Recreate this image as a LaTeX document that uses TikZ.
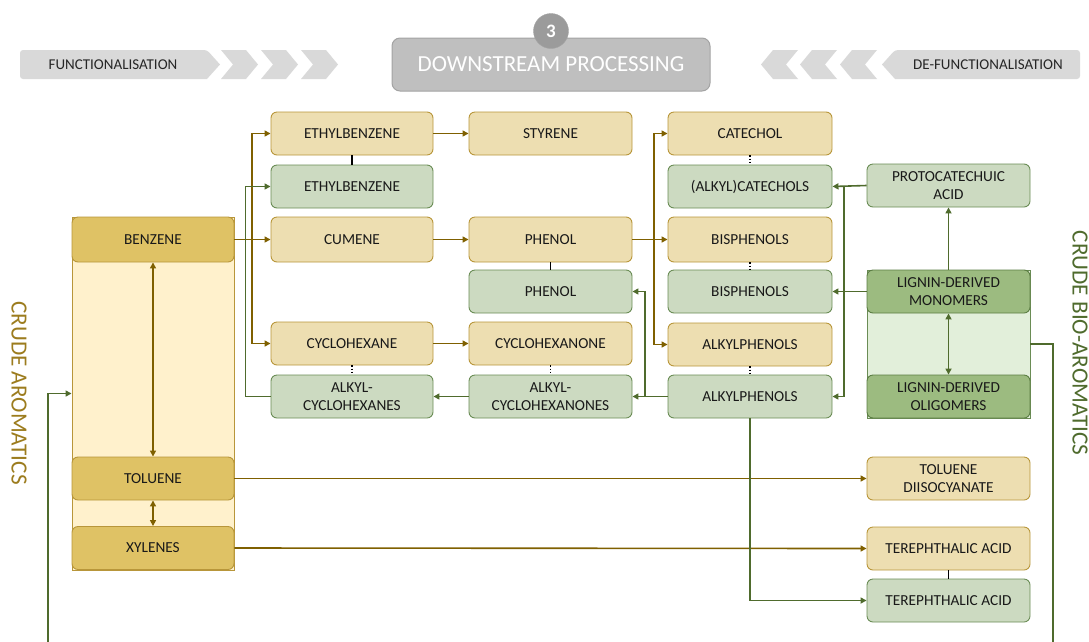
\documentclass[tikz,border=0pt]{standalone}
\usepackage{fontspec}
\setmainfont{Carlito}
\usetikzlibrary{arrows.meta}

\definecolor{beigeF}{HTML}{EDDEB1}
\definecolor{goldD}{HTML}{B8963A}
\definecolor{goldF}{HTML}{DFC265}
\definecolor{goldBg}{HTML}{FFF1CC}
\definecolor{greenF}{HTML}{CCDAC1}
\definecolor{greenD}{HTML}{6A8C55}
\definecolor{dgreenF}{HTML}{9CBB80}
\definecolor{dgreenD}{HTML}{5B7D43}
\definecolor{greenBg}{HTML}{E2EFDA}
\definecolor{brownA}{HTML}{7F6000}
\definecolor{greenA}{HTML}{4F6B2D}
\definecolor{bannerF}{HTML}{D9D9D9}
\definecolor{dsF}{HTML}{BFBFBF}
\definecolor{dsD}{HTML}{A3A3A3}
\definecolor{crudeT}{HTML}{9C7C1E}

\begin{document}
\begin{tikzpicture}[x=1pt,y=-1pt,
  box/.style={rounded corners=6pt, minimum width=162pt, minimum height=43pt,
    align=center, inner sep=1pt, line width=0.9pt, text=black!90,
    font=\fontsize{15.3}{18}\selectfont},
  petro/.style={box, fill=beigeF, draw=goldD},
  crude/.style={box, fill=goldF, draw=goldD},
  bio/.style={box, fill=greenF, draw=greenD},
  lignin/.style={box, fill=dgreenF, draw=dgreenD},
  tip/.style={-{Triangle[length=6pt,width=6pt]}},
  dtip/.style={{Triangle[length=6pt,width=6pt]}-{Triangle[length=6pt,width=6pt]}},
  brownline/.style={draw=brownA, line width=1.6pt},
  greenline/.style={draw=greenA, line width=1.6pt},
  link/.style={draw=black, line width=1.2pt},
  dotlink/.style={draw=black, line width=1.2pt, dotted},
  banner/.style={fill=bannerF, draw=none},
  bannertext/.style={text=black!85, font=\fontsize{15}{17}\selectfont},
  sidetext/.style={rotate=-90, font=\fontsize{23.2}{25}\selectfont}]

\useasboundingbox (0,0) rectangle (1089,641);
\clip (0,0) rectangle (1089,641);

% ---- banners ----
\path[banner, rounded corners=3pt] (20,50) -- (207,50) [sharp corners] -- (220,64.5) -- (207,79) [rounded corners=3pt] -- (20,79) -- cycle;
\foreach \t in {258,298,338}
  \path[banner] (\t-37,50) -- (\t-12,50) -- (\t,64.5) -- (\t-12,79) -- (\t-37,79) -- (\t-25,64.5) -- cycle;
\node[bannertext] (fn) at (113,65) {FUNCTIONALISATION};

\path[banner, rounded corners=3pt] (1080,50) -- (895,50) [sharp corners] -- (882,64.5) -- (895,79) [rounded corners=3pt] -- (1080,79) -- cycle;
\foreach \t in {761,800,840}
  \path[banner] (\t+12,50) -- (\t+37,50) -- (\t+25,64.5) -- (\t+37,79) -- (\t+12,79) -- (\t,64.5) -- cycle;
\node[bannertext] (dfn) at (988,65) {DE-FUNCTIONALISATION};

\node[fill=dsF, draw=dsD, line width=1pt, rounded corners=8pt, minimum width=318pt,
  minimum height=53pt, text=white, font=\fontsize{23}{25}\selectfont] (ds) at (551,64.5) {DOWNSTREAM PROCESSING};
\node[circle, fill=dsD!95!black, draw=dsD, minimum size=35pt, inner sep=0pt, text=white,
  font=\bfseries\fontsize{19}{21}\selectfont] (three) at (551,31) {3};

% ---- group backgrounds ----
\node[fill=goldBg, draw=goldD, line width=0.9pt, minimum width=162pt, minimum height=353pt] (cabg) at (153,393.5) {};
\node[fill=greenBg, draw=greenD, line width=0.9pt, minimum width=163pt, minimum height=148pt] (bbg) at (948.5,344) {};

% ---- side labels ----
\node[sidetext, text=crudeT] (calab) at (19,393) {CRUDE AROMATICS};
\node[sidetext, text=greenA] (bblab) at (1080,343) {CRUDE BIO-AROMATICS};

% ---- crude aromatics ----
\node[crude, minimum height=45pt] (benz) at (153,239.5) {BENZENE};
\node[crude] (tol) at (153,478.5) {TOLUENE};
\node[crude] (xyl) at (153,548) {XYLENES};

% ---- column 1 ----
\node[petro] (eb1) at (352,133.5) {ETHYLBENZENE};
\node[bio] (eb2) at (352,186.5) {ETHYLBENZENE};
\node[petro, minimum height=45pt] (cum) at (352,239.5) {CUMENE};
\node[petro] (chx) at (352,343.5) {CYCLOHEXANE};
\node[bio] (achx) at (352,396.5) {ALKYL-\\CYCLOHEXANES};

% ---- column 2 ----
\node[petro, minimum width=163pt] (sty) at (550.5,133.5) {STYRENE};
\node[petro, minimum width=163pt, minimum height=45pt] (phe1) at (550.5,239.5) {PHENOL};
\node[bio, minimum width=163pt] (phe2) at (550.5,291.5) {PHENOL};
\node[petro, minimum width=163pt] (chxo) at (550.5,343.5) {CYCLOHEXANONE};
\node[bio, minimum width=163pt] (achxo) at (550.5,396.5) {ALKYL-\\CYCLOHEXANONES};

% ---- column 3 ----
\node[petro, minimum width=164pt] (cat) at (750,133.5) {CATECHOL};
\node[bio, minimum width=164pt] (acat) at (750,186.5) {(ALKYL)CATECHOLS};
\node[petro, minimum width=164pt, minimum height=45pt] (bis1) at (750,239.5) {BISPHENOLS};
\node[bio, minimum width=164pt] (bis2) at (750,291.5) {BISPHENOLS};
\node[petro, minimum width=164pt] (ap1) at (750,344.5) {ALKYLPHENOLS};
\node[bio, minimum width=164pt] (ap2) at (750,396.5) {ALKYLPHENOLS};

% ---- column 4 ----
\node[bio, minimum width=163pt] (pca) at (948.5,185.5) {PROTOCATECHUIC\\ACID};
\node[lignin, minimum width=163pt] (ldm) at (948.5,291.5) {LIGNIN-DERIVED\\MONOMERS};
\node[lignin, minimum width=163pt] (ldo) at (948.5,396.5) {LIGNIN-DERIVED\\OLIGOMERS};
\node[petro, minimum width=163pt] (tdi) at (948.5,478.5) {TOLUENE\\DIISOCYANATE};
\node[petro, minimum width=163pt] (tpa1) at (948.5,548.5) {TEREPHTHALIC ACID};
\node[bio, minimum width=163pt] (tpa2) at (948.5,600.5) {TEREPHTHALIC ACID};

% ---- links between petro and bio counterparts ----
\draw[link] (eb1.south) -- (eb2.north);
\draw[link] (phe1.south) -- (phe2.north);
\draw[link] (tpa1.south) -- (tpa2.north);
\draw[dotlink] (cat.south) -- (acat.north);
\draw[dotlink] (bis1.south) -- (bis2.north);
\draw[dotlink] (ap1.south) -- (ap2.north);
\draw[dotlink] (chx.south) -- (achx.north);
\draw[dotlink] (chxo.south) -- (achxo.north);

% ---- petrochemical routes ----
\coordinate (bj) at (252,239.5);
\coordinate (pj) at (654,239.5);
\draw[brownline, tip] (benz.east) -- (cum.west);
\draw[brownline, tip] (bj) |- (eb1.west);
\draw[brownline, tip] (bj) |- (chx.west);
\draw[brownline, tip] (eb1.east) -- (sty.west);
\draw[brownline, tip] (cum.east) -- (phe1.west);
\draw[brownline, tip] (chx.east) -- (chxo.west);
\draw[brownline, tip] (phe1.east) -- (bis1.west);
\draw[brownline, tip] (pj) |- (cat.west);
\draw[brownline, tip] (pj) |- (ap1.west);
\draw[brownline, tip] (tol.east) -- (tdi.west);
\draw[brownline, tip] (xyl.east) -- (tpa1.west);
\draw[brownline, dtip] (benz.south) -- (tol.north);
\draw[brownline, dtip] (tol.south) -- (xyl.north);

% ---- bio-based routes ----
\coordinate (gj) at (645,396.5);
\coordinate (lj) at (844,185.5);
\draw[greenline, tip] (achx.west) -- ++(-25,0) |- (eb2.west);
\draw[greenline, tip] (ap2.west) -- (achxo.east);
\draw[greenline, tip] (gj) |- (phe2.east);
\draw[greenline, tip] (achxo.west) -- (achx.east);
\draw[greenline, tip] (pca.west) -- (acat.east);
\draw[greenline, tip] (lj) |- (ap2.east);
\draw[greenline, tip] (ldm.west) -- (bis2.east);
\draw[greenline, tip] (ldm.north) -- (pca.south);
\draw[greenline, dtip] (ldm.south) -- (ldo.north);
\draw[greenline, tip] (ap2.south) |- (tpa2.west);
\draw[greenline, tip] (bbg.east) -- (1053,344) -- (1053,660) -- (48,660) |- (cabg.west);

\end{tikzpicture}
\end{document}
